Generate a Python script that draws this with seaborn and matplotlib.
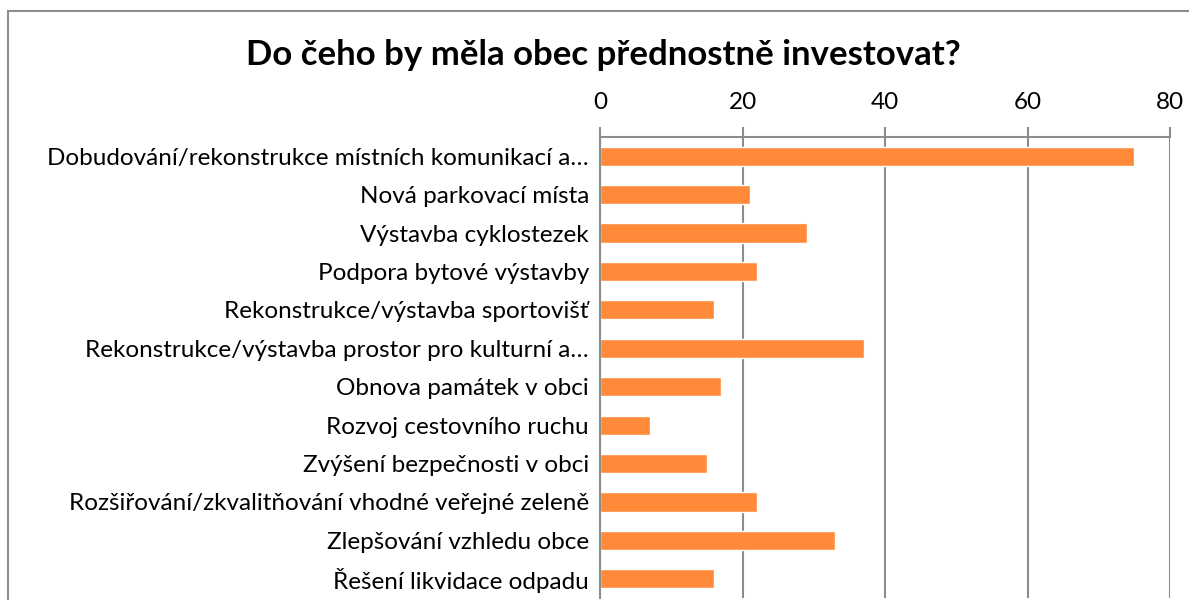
import matplotlib
matplotlib.use("Agg")
import matplotlib.pyplot as plt
import seaborn as sns
import pandas as pd
from matplotlib.patches import Rectangle

kategorie = [
    "Dobudování/rekonstrukce místních komunikací a…",
    "Nová parkovací místa",
    "Výstavba cyklostezek",
    "Podpora bytové výstavby",
    "Rekonstrukce/výstavba sportovišť",
    "Rekonstrukce/výstavba prostor pro kulturní a…",
    "Obnova památek v obci",
    "Rozvoj cestovního ruchu",
    "Zvýšení bezpečnosti v obci",
    "Rozšiřování/zkvalitňování vhodné veřejné zeleně",
    "Zlepšování vzhledu obce",
    "Řešení likvidace odpadu",
]
pocet = [75, 21, 29, 22, 16, 37, 17, 7, 15, 22, 33, 16]
osa_x = [0, 20, 40, 60, 80]

df = pd.DataFrame({"kategorie": kategorie, "pocet": pocet})

sns.set_style("white")
plt.rcParams["font.family"] = ["Lato", "DejaVu Sans"]
plt.rcParams["text.color"] = "black"
plt.rcParams["xtick.labelcolor"] = "black"
plt.rcParams["ytick.labelcolor"] = "black"

seda = "#8c8c8c"
fig = plt.figure(figsize=(11.89, 6.0), dpi=100)
ax = fig.add_axes([600 / 1189, 2 / 600, 570 / 1189, 461 / 600])

sns.barplot(data=df, x="pocet", y="kategorie", color="#ff8a3a", saturation=1,
            width=0.5, ax=ax, orient="h")

ax.set_xlim(0, 80)
ax.set_ylim(len(kategorie) - 0.5, -0.5)
ax.xaxis.tick_top()
ax.set_xticks(osa_x)
ax.set_xticklabels([str(v) for v in osa_x], fontsize=17.5, color="black")
ax.tick_params(axis="x", length=7, color=seda, width=1.5, pad=10, top=True, bottom=False)
ax.set_yticks(range(len(kategorie)))
ax.set_yticklabels(kategorie, fontsize=17.5, color="black")
ax.tick_params(axis="y", length=0, pad=8)
# ticks between categories
ax.set_yticks([i - 0.5 for i in range(len(kategorie) + 1)], minor=True)
ax.tick_params(axis="y", which="minor", length=7, color=seda, width=1.5)
ax.set_xlabel("")
ax.set_ylabel("")

ax.grid(axis="x", color=seda, linewidth=1.5)
ax.set_axisbelow(True)
for s in ["right", "bottom"]:
    ax.spines[s].set_visible(False)
for s in ["left", "top"]:
    ax.spines[s].set_color(seda)
    ax.spines[s].set_linewidth(1.5)

fig.text(0.5 + 9 / 1189, 1 - 55 / 600, "Do čeho by měla obec přednostně investovat?",
         ha="center", va="center", fontsize=25, fontweight="bold", color="black")

fig.patches.append(Rectangle((8 / 1189, -0.1), 1.2, 1.1 - 11 / 600, transform=fig.transFigure,
                             fill=False, edgecolor=seda, linewidth=1.5))

fig.savefig("out.png", dpi=100)
